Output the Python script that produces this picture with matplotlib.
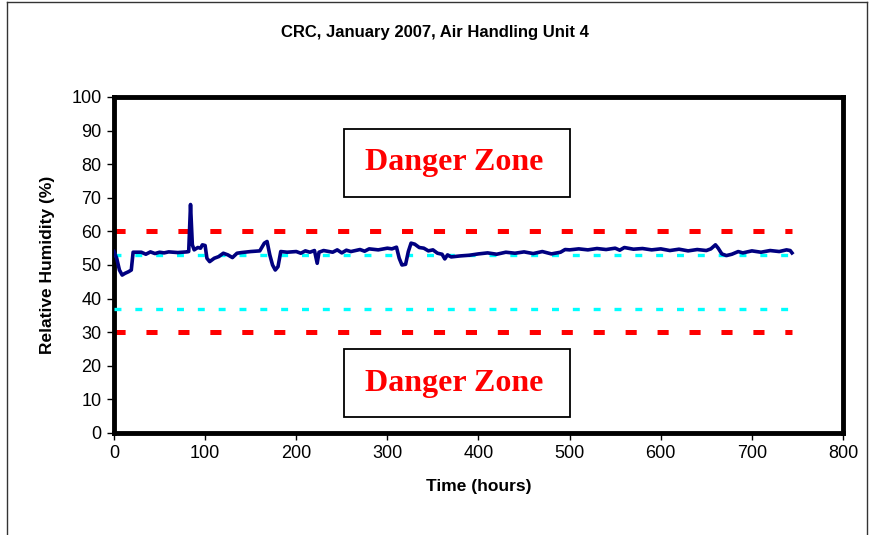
import matplotlib
matplotlib.use('Agg')
import matplotlib.pyplot as plt
from matplotlib.patches import Rectangle
from matplotlib.lines import Line2D

# Данные (время, ч / относительная влажность, %)
hours = [0, 3, 6, 9, 12, 16, 19, 21, 30, 35, 40, 45, 50, 55, 60, 70, 80, 82, 84, 86,
         88, 92, 95, 97, 100, 102, 105, 110, 115, 120, 125, 130, 135, 140, 150, 160,
         165, 168, 171, 174, 177, 180, 183, 190, 200, 205, 210, 215, 220, 223, 225,
         230, 240, 245, 250, 255, 260, 270, 275, 280, 290, 300, 305, 310, 313, 316,
         320, 323, 326, 330, 335, 340, 345, 350, 355, 360, 363, 366, 370, 380, 390,
         400, 410, 420, 430, 440, 450, 460, 470, 480, 490, 495, 500, 510, 520, 530,
         540, 550, 555, 560, 570, 580, 590, 600, 610, 620, 630, 640, 650, 655, 660,
         663, 667, 672, 678, 685, 690, 700, 710, 720, 730, 738, 742, 744]
humidity = [54, 52, 48.5, 47, 47.5, 48, 48.5, 53.8, 53.8, 53.2, 53.9, 53.4, 53.8, 53.6,
            53.9, 53.7, 53.9, 54, 68, 56, 54.5, 55.2, 55, 56, 55.8, 52, 51, 52, 52.5,
            53.5, 53, 52.2, 53.5, 53.7, 54, 54.2, 56.5, 57, 53, 50, 48.5, 49.5, 54,
            53.8, 54, 53.5, 54.2, 53.8, 54.3, 50.5, 53.8, 54.3, 53.8, 54.5, 53.6, 54.4,
            54, 54.6, 54.1, 54.8, 54.5, 55, 54.8, 55.3, 52, 50, 50.2, 54, 56.5, 56.2,
            55.2, 55, 54.2, 54.5, 53.5, 53.2, 51.8, 53, 52.4, 52.7, 52.9, 53.3, 53.6,
            53.2, 53.8, 53.5, 53.9, 53.4, 54, 53.3, 53.8, 54.6, 54.5, 54.8, 54.5, 54.9,
            54.6, 55, 54.4, 55.2, 54.7, 54.9, 54.5, 54.8, 54.3, 54.7, 54.2, 54.6, 54.3,
            54.8, 56, 55, 53.3, 52.8, 53.2, 54, 53.6, 54.2, 53.8, 54.3, 54, 54.5, 54.3,
            53.6]

# Границы зон
limit_x = [0, 744]
red_limits = [60, 30]
cyan_limits = [53, 37]
zone_label = 'Danger Zone'

plt.rcParams['font.family'] = ['Liberation Sans', 'DejaVu Sans']
plt.rcParams['lines.scale_dashes'] = False

fig = plt.figure(figsize=(8.7, 5.35), dpi=100)
ax = fig.add_axes([0.131, 0.1907, 0.838, 0.628])

# рамка всей диаграммы
for xs, ys in [([0.008, 0.008], [0, 0.996]), ([0.008, 0.997], [0.996, 0.996]),
               ([0.997, 0.997], [0, 0.996])]:
    fig.add_artist(Line2D(xs, ys, transform=fig.transFigure, color='#333333', lw=1))

for v in red_limits:
    ax.plot(limit_x, [v, v], color='#ff0000', lw=3.6, dashes=(8, 15), zorder=2)
for v in cyan_limits:
    ax.plot(limit_x, [v, v], color='#00ffff', lw=2.4, dashes=(5, 10), zorder=3)

ax.plot(hours, humidity, color='#000080', lw=2.6, zorder=4)

ax.set_xlim(0, 800)
ax.set_ylim(0, 100)
ax.set_xticks(range(0, 801, 100))
ax.set_yticks(range(0, 101, 10))
ax.tick_params(direction='out', length=5, width=1, labelsize=13, pad=4)
for s in ax.spines.values():
    s.set_linewidth(3.5)

# подписи "Danger Zone"
for y0, yc in [(70.2, 80.4), (4.8, 14.6)]:
    ax.add_patch(Rectangle((252, y0), 248.5, 20.3, fill=False, edgecolor='black',
                           lw=1.3, zorder=5))
    ax.text(373, yc, zone_label, color='#ff0000', fontsize=23, fontweight='bold',
            family='Liberation Serif', ha='center', va='center', zorder=6)

fig.text(0.5, 0.94, 'CRC, January 2007, Air Handling Unit 4', ha='center',
         va='center', fontsize=12, fontweight='bold')
ax.set_xlabel('Time (hours)', fontsize=12.5, fontweight='bold', labelpad=12)
ax.set_ylabel('Relative Humidity (%)', fontsize=12.5, fontweight='bold', labelpad=12)

fig.savefig('out.png', dpi=100)
